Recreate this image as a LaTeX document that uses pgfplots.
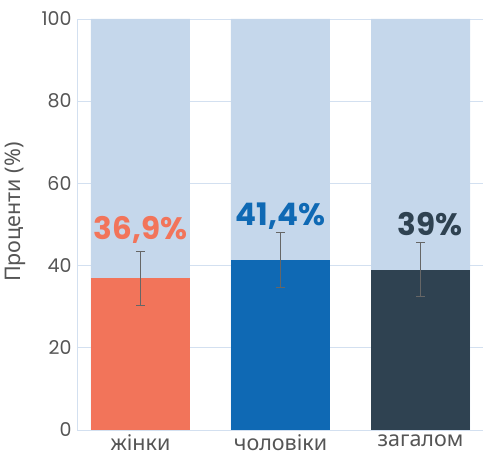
\documentclass[border=0pt]{standalone}
\usepackage{fontspec}
\setmainfont{Poppins}
\newfontfamily\cyr{Noto Sans}
\usepackage{pgfplots}
\pgfplotsset{compat=1.18}
\definecolor{bgbar}{HTML}{C5D7EB}
\definecolor{cw}{HTML}{F2745A}
\definecolor{cm}{HTML}{0F69B4}
\definecolor{ct}{HTML}{2F4251}
\definecolor{gridc}{HTML}{D3E0F0}
\definecolor{txt}{HTML}{555555}
\definecolor{errc}{HTML}{666666}
\begin{document}
\begin{tikzpicture}
\begin{axis}[
  name=ax,
  scale only axis,
  width=406pt, height=411pt,
  ymin=0, ymax=100,
  xmin=-0.453, xmax=2.446,
  ytick={0,20,40,60,80,100},
  xtick={0,1,2},
  xticklabels={жінки,чоловіки,загалом},
  axis lines*=left,
  x axis line style={draw=none},
  y axis line style={draw=gridc, line width=0.8pt},
  ymajorgrids,
  grid style={draw=gridc, line width=0.8pt},
  major tick length=0pt,
  /pgf/number format/assume math mode=true,
  tick label style={font=\fontsize{19}{20}\selectfont, text=txt},
  yticklabel style={xshift=-2pt},
  xticklabel style={yshift=-1pt, font=\cyr\fontsize{21.5}{22}\selectfont},
  ylabel={Проценти (\%)},
  ylabel style={at={(axis description cs:-0.151,0.53)}, anchor=center, font=\cyr\fontsize{21.5}{22}\selectfont, text=txt},
  ybar, bar width=0.707, bar shift=0pt,
  clip=false,
]
\addplot[fill=bgbar, draw=none] coordinates {(0,100) (1,100) (2,100)};
\addplot[fill=cw, draw=none, error bars/.cd, y dir=both, y explicit,
  error bar style={draw=errc, line width=0.8pt},
  error mark options={rotate=90, mark size=4.5pt, draw=errc, line width=0.8pt}]
  coordinates {(0,36.9) +- (0,6.6)};
\addplot[fill=cm, draw=none, error bars/.cd, y dir=both, y explicit,
  error bar style={draw=errc, line width=0.8pt},
  error mark options={rotate=90, mark size=4.5pt, draw=errc, line width=0.8pt}]
  coordinates {(1,41.4) +- (0,6.6)};
\addplot[fill=ct, draw=none, error bars/.cd, y dir=both, y explicit,
  error bar style={draw=errc, line width=0.8pt},
  error mark options={rotate=90, mark size=4.5pt, draw=errc, line width=0.8pt}]
  coordinates {(2,39.0) +- (0,6.6)};
\node[font=\fontsize{31}{32}\bfseries, text=cw] at (axis cs:0,48.7) {36,9\%};
\node[font=\fontsize{31}{32}\bfseries, text=cm] at (axis cs:1,52.0) {41,4\%};
\node[font=\fontsize{31}{32}\bfseries, text=ct] at (axis cs:2.068,50.0) {39\%};
\end{axis}
\pgfresetboundingbox
\path ([shift={(-77pt,-24pt)}]ax.south west) rectangle ([shift={(0pt,19pt)}]ax.north east);
\end{tikzpicture}
\end{document}
